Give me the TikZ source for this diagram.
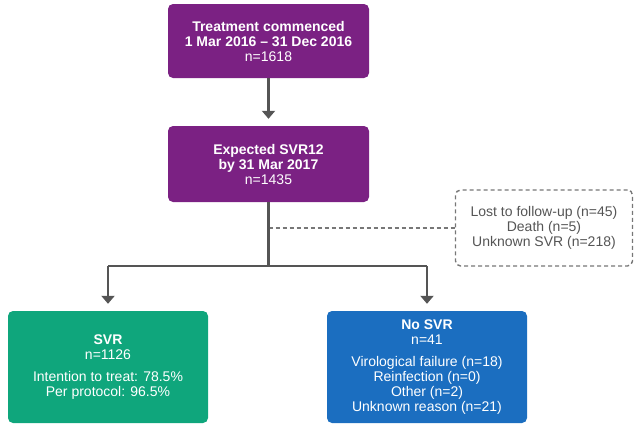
\documentclass[tikz,border=0pt]{standalone}
\usepackage{fontspec}
\setmainfont{Liberation Sans}
\usetikzlibrary{arrows.meta}
\definecolor{purp}{HTML}{7B2183}
\definecolor{grn}{HTML}{0FA67C}
\definecolor{blu}{HTML}{1B6EC0}
\definecolor{lin}{HTML}{555555}
\begin{document}
\begin{tikzpicture}[x=1pt,y=-1pt,
  box/.style={rectangle,rounded corners=5pt,draw=none,text=white,align=center,
    inner sep=0pt,font=\fontsize{14}{15}\selectfont},
  conn/.style={draw=lin,line width=2.2pt},
  arr/.style={conn,-{Triangle[length=8pt,width=13pt]}},
  dashline/.style={draw=lin!80,line width=1.4pt,dash pattern=on 4pt off 3pt}]
\useasboundingbox (0,0) rectangle (634,423);
\node[box,fill=purp,minimum width=201pt,minimum height=74pt] (b1) at (268.5,41)
  {\textbf{Treatment commenced}\\\textbf{1 Mar 2016 -- 31 Dec 2016}\\n=1618};
\node[box,fill=purp,minimum width=201pt,minimum height=76pt] (b2) at (268.5,164)
  {\textbf{Expected SVR12}\\\textbf{by 31 Mar 2017}\\n=1435};
\node[box,text=lin,draw=lin!80,line width=1.4pt,dash pattern=on 4pt off 3pt,
  minimum width=177pt,minimum height=76pt] (lost) at (544,228)
  {Lost to follow-up (n=45)\\Death (n=5)\\Unknown SVR (n=218)};
\node[box,fill=grn,minimum width=200pt,minimum height=112pt] (svr) at (108,367)
  {\textbf{SVR}\\n=1126\\[7pt]Intention to treat: 78.5\%\\Per protocol: 96.5\%};
\node[box,fill=blu,minimum width=200pt,minimum height=112pt] (nosvr) at (427,367)
  {\textbf{No SVR}\\n=41\\[7pt]Virological failure (n=18)\\Reinfection (n=0)\\Other (n=2)\\Unknown reason (n=21)};
\coordinate (junc) at (b2.south |- 0,266);
\coordinate (dj) at (b2.south |- lost.west);
\coordinate (lft) at (svr.north |- junc);
\coordinate (rgt) at (nosvr.north |- junc);
\draw[arr] (b1.south) -- ([yshift=7pt]b2.north);
\draw[dashline] (dj) -- (lost.west);
\draw[conn] (b2.south) -- (junc);
\draw[conn] (lft) -- (rgt);
\draw[arr] (lft) -- ([yshift=7pt]svr.north);
\draw[arr] (rgt) -- ([yshift=7pt]nosvr.north);
\end{tikzpicture}
\end{document}
